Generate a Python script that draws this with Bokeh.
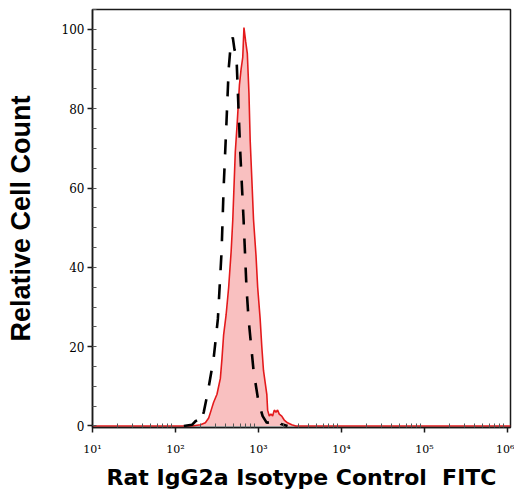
from bokeh.plotting import figure
from bokeh.models import FixedTicker, SingleIntervalTicker
from bokeh.embed import file_html
from bokeh.resources import INLINE

# ---- data (fluorescence intensity, relative count) ----
stained_x = [10, 158, 200, 229, 251, 269, 288, 316, 347, 363, 380, 407, 437, 468, 490,
             525, 556, 589, 617, 646, 668, 700, 733, 767, 794, 832, 871, 933, 977,
             1047, 1096, 1148, 1202, 1259, 1288, 1349, 1413, 1479, 1549, 1622, 1698,
             1778, 1905, 2042, 2239, 2512, 2818, 1086000]
stained_y = [0, 0, 0.3, 0.8, 2, 4, 6, 8, 12, 17, 23, 28, 35, 44, 52,
             69, 77, 86, 90, 93, 100.5, 97, 94, 84, 72, 62, 52, 43, 35,
             27, 20, 14, 11, 8, 4, 2.5, 3, 2.5, 4, 3.5, 4,
             3, 2.5, 1.5, 0.8, 0.3, 0, 0]

isotype_x = [126, 158, 174, 186, 200, 219, 245, 288, 324, 359, 380, 412, 437, 462, 490,
             513, 543, 562, 603, 661, 716, 759, 871, 1000, 1122, 1259, 1396, 1585,
             1698, 1862, 2239]
isotype_y = [0, 0.3, 1.2, 1.5, 0.8, 3.5, 8.5, 17, 27, 44, 60, 77, 90, 96, 98,
             95, 93, 85, 69, 52, 35, 27, 14, 6, 2.5, 0.8, 1, 1.5,
             1.5, 0.5, 0]

x_ticks = [10, 100, 1000, 10000, 100000, 1000000]
x_tick_labels = ["10\u00b9", "10\u00b2", "10\u00b3", "10\u2074", "10\u2075", "10\u2076"]
y_ticks_interval = 20

x_label = "Rat IgG2a Isotype Control \u00a0FITC"
y_label = "Relative Cell Count"

p = figure(width=514, height=492, x_axis_type="log",
           x_range=(10, 10 ** 6.036), y_range=(-0.38, 105.04),
           output_backend="svg", toolbar_location=None,
           min_border_left=92, min_border_right=4, min_border_top=9, min_border_bottom=65)

p.grid.visible = False
p.outline_line_color = "#1a1a1a"
p.outline_line_width = 1.5

# stained histogram
p.varea(x=stained_x, y1=0, y2=stained_y, fill_color="#f9c0c0", fill_alpha=1.0)
p.line(x=stained_x, y=stained_y, line_color="#e41a1c", line_width=1.6)
# isotype control dashed
p.line(x=isotype_x, y=isotype_y, line_color="black", line_width=2.6, line_dash="15 14")

minor = [k * 10 ** n for n in range(1, 6) for k in range(2, 10)]
p.xaxis.ticker = FixedTicker(ticks=x_ticks, minor_ticks=minor)
p.xaxis.major_label_overrides = {t: l for t, l in zip(x_ticks, x_tick_labels)}
p.yaxis.ticker = SingleIntervalTicker(interval=y_ticks_interval, num_minor_ticks=4)

for ax in (p.xaxis, p.yaxis):
    ax.axis_line_color = "#1a1a1a"
    ax.axis_line_width = 1.5
    ax.major_tick_line_color = "#1a1a1a"
    ax.major_tick_line_width = 1.5
    ax.major_tick_out = 5
    ax.major_tick_in = 0
    ax.minor_tick_in = 4
    ax.minor_tick_out = 0
    ax.minor_tick_line_color = "#555555"
    ax.major_label_text_font = "DejaVu Serif"
    ax.major_label_text_color = "black"
    ax.axis_label_text_font_style = "bold"
    ax.axis_label_text_color = "black"

p.xaxis.major_label_text_font_size = "11px"
p.yaxis.major_label_text_font_size = "12px"

p.xaxis.axis_label = x_label
p.xaxis.axis_label_text_font = "DejaVu Sans"
p.xaxis.axis_label_text_font_size = "22px"
p.xaxis.major_label_standoff = 10
p.xaxis.axis_label_standoff = 6

p.yaxis.axis_label = y_label
p.yaxis.axis_label_text_font = "Liberation Sans"
p.yaxis.axis_label_text_font_size = "27px"
p.yaxis.major_label_standoff = 3
p.yaxis.axis_label_standoff = 23

open("out.html", "w").write(file_html(p, INLINE))
